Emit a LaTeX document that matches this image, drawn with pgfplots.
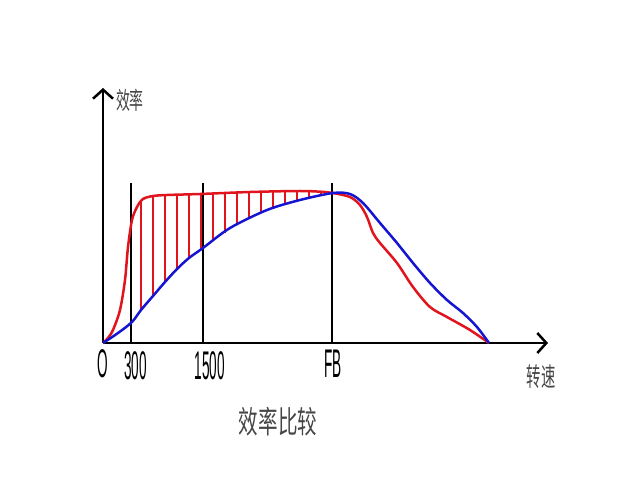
\documentclass[border=0pt]{standalone}
\usepackage{pgfplots}
\pgfplotsset{compat=1.18}
\usepackage{graphicx}
\usepackage{fontspec}
\setmainfont{Liberation Sans}
\newfontfamily\cjk{Noto Sans CJK SC}
\usetikzlibrary{arrows.meta}

\definecolor{effred}{RGB}{225,20,30}
\definecolor{effblue}{RGB}{20,20,210}
\definecolor{txtgray}{RGB}{70,70,70}

\newcommand{\tlab}[1]{\fontsize{40}{40}\selectfont\scalebox{0.34}[1]{#1}}

\begin{document}
\begin{tikzpicture}
\path[use as bounding box] (-103pt,-146pt) rectangle (537pt,343pt);
\begin{axis}[
  at={(0,0)}, anchor=south west,
  x=1pt, y=1pt,
  xmin=0, xmax=445, ymin=0, ymax=255,
  axis lines=left,
  axis line style={line width=2.5pt, -{Straight Barb[length=9pt,width=20pt,line width=2.5pt]}},
  xtick=\empty, ytick=\empty,
  clip=false,
  unbounded coords=jump,
]
% reference speeds
\addplot[black, line width=2pt] coordinates {(28,0) (28,160) (28,nan) (100,0) (100,160) (100,nan) (229,0) (229,160)};
% hatching between the curves
\addplot[effred, line width=1.6pt] coordinates {
 (38,33) (38,142) (38,nan)
 (50,47) (50,146.5) (50,nan)
 (62,61) (62,148) (62,nan)
 (74,74) (74,148) (74,nan)
 (86,85) (86,148.5) (86,nan)
 (98,94) (98,149) (98,nan)
 (110,102) (110,149) (110,nan)
 (122,110) (122,149.5) (122,nan)
 (134,118) (134,150) (134,nan)
 (146,124) (146,151) (146,nan)
 (158,130) (158,151) (158,nan)
 (170,135) (170,151) (170,nan)
 (182,139) (182,151.5) (182,nan)
 (194,142) (194,152) (194,nan)
 (206,145) (206,152) (206,nan)
 (218,148) (218,151)
};
% red efficiency curve
\addplot[effred, line width=2.5pt, smooth] coordinates {
 (0,0) (5,5) (10,13) (17,33) (22,63) (25,96) (29,123) (34,136) (40,144) (50,147)
 (64,148) (97,149) (147,151) (197,152) (222,151) (230,150) (247,146) (257,138) (264,126)
 (270,110) (277,100) (294,80) (310,56) (327,36) (344,26) (367,13) (386,0)
};
% blue efficiency curve
\addplot[effblue, line width=2.5pt, smooth] coordinates {
 (0,0) (15,10) (29,21) (38,33) (50,47) (62,61) (74,74) (86,85) (100,95) (127,115)
 (164,133) (197,143) (230,150) (247,149) (260,140) (277,120) (294,100) (310,80)
 (327,60) (344,43) (360,30) (374,16) (386,0)
};
\node at (axis cs:0,-21) {\tlab{O}};
\node at (axis cs:32.5,-23) {\tlab{300}};
\node at (axis cs:107,-23) {\tlab{1500}};
\node at (axis cs:230,-21) {\tlab{FB}};
\node[txtgray] at (axis cs:27,243) {\cjk\fontsize{24}{24}\selectfont\scalebox{0.58}[1]{效率}};
\node[txtgray] at (axis cs:438,-34) {\cjk\fontsize{26}{26}\selectfont\scalebox{0.55}[1]{转速}};
\node[txtgray] at (axis cs:175,-79) {\cjk\fontsize{31}{31}\selectfont\scalebox{0.63}[1]{效率比较}};
\end{axis}
\end{tikzpicture}
\end{document}
